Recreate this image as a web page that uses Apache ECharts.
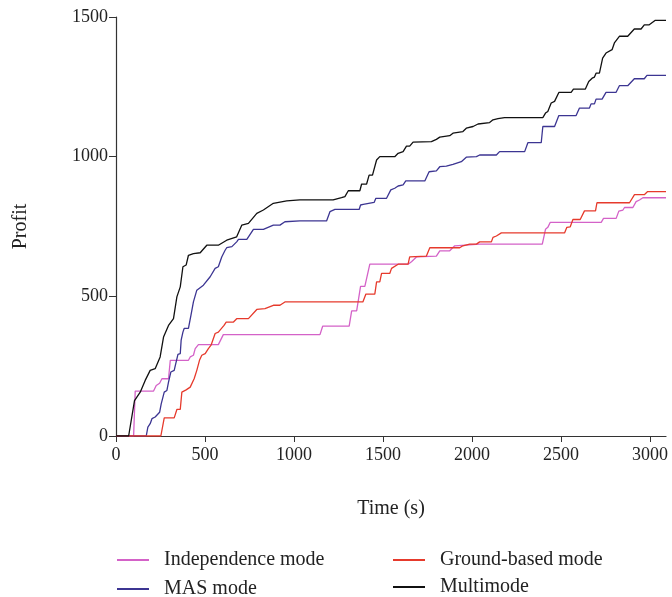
<!DOCTYPE html>
<html>
<head>
<meta charset="utf-8">
<script src="https://cdn.jsdelivr.net/npm/echarts@6/dist/echarts.min.js"></script>
<style>
  html, body { margin: 0; padding: 0; background: #fff; }
  #chart { width: 672px; height: 597px; }
</style>
</head>
<body>
<div id="chart"></div>
<script>
// Puntos [tiempo (s), beneficio]
const independencia = [[0,0],[99,0],[108,161],[211,161],[226,181],[245,189],[258,205],[295,205],[305,271],[407,271],[417,283],[435,289],[445,313],[463,327],[575,327],[603,363],[1146,363],[1161,393],[1310,393],[1324,448],[1352,448],[1374,536],[1398,536],[1426,615],[1641,615],[1660,624],[1688,641],[1800,644],[1819,663],[1875,663],[1903,681],[2043,687],[2395,687],[2413,740],[2426,747],[2440,765],[2726,765],[2739,779],[2810,779],[2825,805],[2848,809],[2857,818],[2904,818],[2922,839],[2941,845],[2960,853],[3090,853]];

const mas = [[0,0],[170,0],[179,32],[192,44],[202,62],[220,68],[245,85],[254,115],[271,157],[286,163],[295,193],[308,229],[327,235],[338,265],[348,292],[361,295],[366,343],[376,372],[383,385],[407,385],[421,432],[435,480],[454,522],[491,540],[529,570],[557,600],[575,606],[594,641],[613,665],[622,674],[651,678],[678,695],[688,704],[735,704],[772,740],[828,740],[884,755],[921,755],[949,767],[1033,770],[1183,770],[1202,803],[1230,811],[1366,811],[1374,827],[1389,829],[1398,836],[1450,836],[1460,851],[1520,851],[1544,881],[1566,887],[1585,895],[1613,899],[1628,913],[1735,913],[1759,946],[1800,949],[1819,964],[1856,966],[1893,972],[1940,982],[1968,998],[2025,1000],[2043,1006],[2137,1006],[2155,1018],[2296,1018],[2314,1050],[2389,1050],[2398,1108],[2464,1108],[2488,1147],[2585,1147],[2604,1174],[2660,1174],[2669,1189],[2688,1189],[2697,1206],[2731,1206],[2753,1230],[2809,1230],[2828,1254],[2875,1254],[2912,1279],[2968,1279],[2983,1291],[3090,1291]];

const terrestre = [[0,0],[252,0],[271,65],[327,65],[342,95],[361,95],[370,157],[394,165],[417,175],[439,205],[454,235],[469,271],[482,289],[501,295],[519,313],[534,325],[557,367],[575,372],[607,396],[619,408],[660,408],[678,420],[744,420],[791,453],[837,456],[884,468],[921,468],[949,480],[1387,480],[1404,508],[1454,508],[1464,552],[1482,552],[1492,582],[1538,582],[1548,600],[1585,615],[1641,615],[1650,641],[1744,644],[1763,674],[1931,674],[1949,681],[1987,687],[2025,687],[2043,695],[2109,695],[2118,711],[2137,716],[2165,727],[2520,727],[2533,747],[2552,749],[2567,775],[2608,775],[2632,806],[2694,806],[2702,835],[2885,835],[2913,864],[2968,864],[2987,875],[3090,875]];

const multimodo = [[0,0],[71,0],[104,127],[136,157],[164,199],[192,235],[220,241],[248,283],[267,354],[295,396],[323,420],[342,498],[361,534],[376,606],[394,612],[407,647],[435,653],[473,656],[510,683],[575,683],[622,701],[678,713],[707,755],[744,761],[791,797],[828,809],[884,833],[959,842],[1033,845],[1220,845],[1267,853],[1286,857],[1305,878],[1370,878],[1380,902],[1408,902],[1422,934],[1441,934],[1464,988],[1482,1000],[1566,1000],[1585,1012],[1613,1018],[1632,1038],[1650,1038],[1669,1052],[1772,1054],[1800,1062],[1819,1070],[1875,1075],[1893,1084],[1949,1090],[1968,1102],[2006,1108],[2034,1117],[2099,1122],[2118,1132],[2146,1136],[2183,1140],[2398,1140],[2413,1156],[2426,1162],[2445,1192],[2464,1198],[2488,1230],[2557,1230],[2570,1242],[2637,1242],[2656,1269],[2675,1281],[2688,1285],[2697,1299],[2716,1299],[2734,1353],[2753,1371],[2787,1383],[2800,1407],[2828,1431],[2875,1431],[2912,1457],[2950,1457],[2968,1472],[2996,1472],[3030,1488],[3090,1488]];

const nombres = ['Independence mode', 'MAS mode', 'Ground-based mode', 'Multimode'];
const colores = ['#d462c8', '#3c3592', '#e63a2c', '#111111'];
const ticksX = [0, 500, 1000, 1500, 2000, 2500, 3000];

const fuente = 'Liberation Serif';
const chartDom = document.getElementById('chart');
const myChart = echarts.init(chartDom);

function crearSerie(nombre, datos, color) {
    return {
        name: nombre,
        type: 'line',
        data: datos,
        showSymbol: false,
        color: color,
        lineStyle: { width: 1.3, color: color },
        animation: false
    };
}

// Una leyenda por elemento, para colocar las dos columnas
function crearLeyenda(nombre, left, top) {
    return {
        left: left,
        top: top,
        data: [nombre],
        icon: 'rect',
        itemWidth: 32,
        itemHeight: 2,
        textStyle: {
            fontFamily: fuente,
            fontSize: 20,
            color: '#222',
            padding: [0, 0, 0, 10]
        }
    };
}

const option = {
    backgroundColor: '#fff',
    grid: { left: 116, right: 6, top: 17, bottom: 161 },
    legend: [
        crearLeyenda(nombres[0], 112, 545),
        crearLeyenda(nombres[1], 112, 574),
        crearLeyenda(nombres[2], 388, 545),
        crearLeyenda(nombres[3], 388, 572)
    ],
    xAxis: {
        type: 'value',
        min: 0,
        max: 3090,
        interval: 500,
        name: 'Time (s)',
        nameLocation: 'middle',
        nameGap: 63,
        nameTextStyle: { fontFamily: fuente, fontSize: 20, color: '#222' },
        splitLine: { show: false },
        axisLine: { lineStyle: { color: '#333', width: 1.2 } },
        axisTick: { length: 6, lineStyle: { color: '#333' }, customValues: ticksX },
        axisLabel: {
            fontFamily: fuente, fontSize: 18, color: '#222', margin: 10,
            customValues: ticksX,
            formatter: value => String(value)
        }
    },
    yAxis: {
        type: 'value',
        min: 0,
        max: 1500,
        interval: 500,
        name: 'Profit',
        nameLocation: 'middle',
        nameGap: 85,
        nameTextStyle: { fontFamily: fuente, fontSize: 20, color: '#222' },
        splitLine: { show: false },
        axisLine: { show: true, lineStyle: { color: '#333', width: 1.2 } },
        axisTick: { show: true, length: 7, lineStyle: { color: '#333' } },
        axisLabel: {
            fontFamily: fuente, fontSize: 18, color: '#222', margin: 8,
            formatter: value => String(value)
        }
    },
    series: [
        crearSerie(nombres[0], independencia, colores[0]),
        crearSerie(nombres[1], mas, colores[1]),
        crearSerie(nombres[2], terrestre, colores[2]),
        crearSerie(nombres[3], multimodo, colores[3])
    ]
};

myChart.setOption(option);
</script>
</body>
</html>
